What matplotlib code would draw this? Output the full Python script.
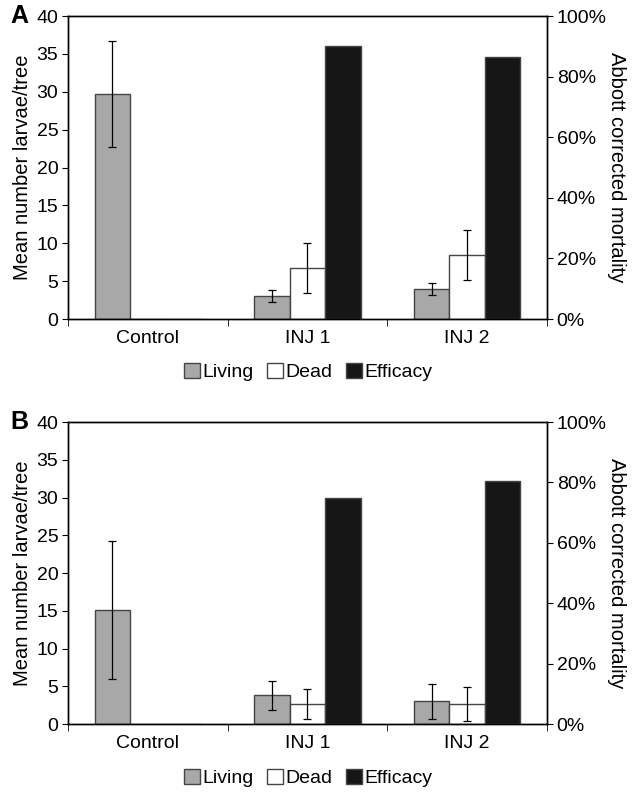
import matplotlib.pyplot as plt
import numpy as np
from matplotlib.patches import Patch
from matplotlib.ticker import PercentFormatter

plt.rcParams['font.family'] = ['Liberation Sans', 'DejaVu Sans']

groups = ["Control", "INJ 1", "INJ 2"]

# panel A
living_a = [29.7, 3.0, 4.0]
living_err_a = [7.0, 0.8, 0.8]
dead_a = [0.0, 6.7, 8.4]
dead_err_a = [0.0, 3.3, 3.3]
efficacy_a = [0.0, 90.0, 86.6]

# panel B
living_b = [15.1, 3.8, 3.0]
living_err_b = [9.2, 1.9, 2.3]
dead_b = [0.0, 2.65, 2.65]
dead_err_b = [0.0, 2.0, 2.3]
efficacy_b = [0.0, 74.8, 80.5]

grey = "#a8a8a8"
black = "#161616"
edge = "#444444"


def draw_panel(ax, living, living_err, dead, dead_err, efficacy, letter):
    x = np.arange(len(groups))
    w = 0.222
    ax.bar(x - w, living, w, color=grey, edgecolor=edge, linewidth=1)
    ax.bar(x, dead, w, color="white", edgecolor=edge, linewidth=1)
    ax.errorbar(x - w, living, yerr=living_err, fmt="none", ecolor="black",
                elinewidth=0.9, capsize=3, capthick=0.9)
    ax.errorbar(x[1:], dead[1:], yerr=dead_err[1:], fmt="none", ecolor="black",
                elinewidth=0.9, capsize=3, capthick=0.9)
    ax.set_ylim(0, 40)
    ax.set_xlim(-0.5, 2.5)
    ax.set_yticks(range(0, 41, 5))
    ax.set_xticks(x)
    ax.set_xticklabels(groups)
    ax.set_xticks([-0.5, 0.5, 1.5, 2.5], minor=True)
    ax.tick_params(axis="x", which="major", length=0, pad=8, labelsize=14)
    ax.tick_params(axis="x", which="minor", length=5, direction="out")
    ax.tick_params(axis="y", length=4, direction="out", labelsize=14, pad=3)
    ax.set_ylabel("Mean number larvae/tree", fontsize=14.5, labelpad=3)

    ax2 = ax.twinx()
    ax2.bar(x + w, efficacy, w, color=black, edgecolor=edge, linewidth=1)
    ax2.set_ylim(0, 100)
    ax2.set_yticks(range(0, 101, 20))
    ax2.yaxis.set_major_formatter(PercentFormatter(decimals=0))
    ax2.tick_params(axis="y", length=4, direction="out", labelsize=14, pad=3)
    ax2.set_ylabel("Abbott corrected mortality", fontsize=14.5, rotation=270,
                   labelpad=14)
    for a in (ax, ax2):
        for s in a.spines.values():
            s.set_linewidth(1)

    ax.text(-0.12, 1.0, letter, transform=ax.transAxes, fontsize=18,
            fontweight="bold", ha="left", va="center")


fig = plt.figure(figsize=(6.39, 7.93), dpi=100)
ax_a = fig.add_axes([0.1064, 0.5977, 0.7496, 0.382])
ax_b = fig.add_axes([0.1064, 0.087, 0.7496, 0.3808])

draw_panel(ax_a, living_a, living_err_a, dead_a, dead_err_a, efficacy_a, "A")
draw_panel(ax_b, living_b, living_err_b, dead_b, dead_err_b, efficacy_b, "B")

handles = [Patch(facecolor=grey, edgecolor=edge, label="Living"),
           Patch(facecolor="white", edgecolor=edge, label="Dead"),
           Patch(facecolor=black, edgecolor=edge, label="Efficacy")]
for yc in (0.531, 0.019):
    fig.legend(handles=handles, loc="center", bbox_to_anchor=(0.482, yc),
               ncol=3, frameon=False, fontsize=14, handlelength=0.85,
               handleheight=0.85, handletextpad=0.1, columnspacing=0.7,
               borderpad=0)

fig.savefig("out.png", dpi=100)
